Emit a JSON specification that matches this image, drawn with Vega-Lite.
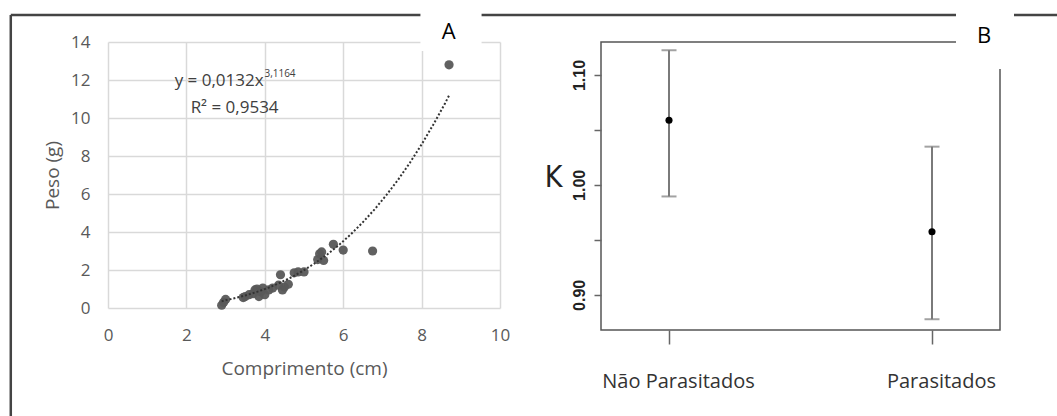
{
  "$schema": "https://vega.github.io/schema/vega-lite/v6.json",
  "background": "white",
  "padding": {"left": 9, "top": 5, "right": 0, "bottom": 0},
  "autosize": {"type": "pad"},
  "bounds": "flush",
  "spacing": 101,
  "config": {"view": {"stroke": null}, "font": "Open Sans"},
  "datasets": {
    "scatter": [
      {"x": 2.9, "y": 0.15}, {"x": 2.95, "y": 0.3}, {"x": 3.0, "y": 0.45}, {"x": 3.45, "y": 0.55},
      {"x": 3.5, "y": 0.6}, {"x": 3.6, "y": 0.7}, {"x": 3.7, "y": 0.75}, {"x": 3.75, "y": 0.95},
      {"x": 3.8, "y": 1.0}, {"x": 3.85, "y": 0.6}, {"x": 3.9, "y": 0.85}, {"x": 3.95, "y": 1.05},
      {"x": 4.0, "y": 0.7}, {"x": 4.1, "y": 0.95}, {"x": 4.2, "y": 1.05}, {"x": 4.35, "y": 1.2},
      {"x": 4.4, "y": 1.75}, {"x": 4.45, "y": 0.95}, {"x": 4.5, "y": 1.1}, {"x": 4.6, "y": 1.25},
      {"x": 4.75, "y": 1.85}, {"x": 4.85, "y": 1.9}, {"x": 5.0, "y": 1.9}, {"x": 5.35, "y": 2.55},
      {"x": 5.4, "y": 2.85}, {"x": 5.45, "y": 2.95}, {"x": 5.5, "y": 2.5}, {"x": 5.75, "y": 3.35},
      {"x": 6.0, "y": 3.05}, {"x": 6.75, "y": 3.0}, {"x": 8.7, "y": 12.8}
    ],
    "trend": [
      {"x": 2.9, "y": 0.36}, {"x": 3.2, "y": 0.5}, {"x": 3.5, "y": 0.66}, {"x": 3.8, "y": 0.85},
      {"x": 4.1, "y": 1.07}, {"x": 4.4, "y": 1.34}, {"x": 4.7, "y": 1.64}, {"x": 5.0, "y": 1.99},
      {"x": 5.3, "y": 2.39}, {"x": 5.6, "y": 2.83}, {"x": 5.9, "y": 3.33}, {"x": 6.2, "y": 3.89},
      {"x": 6.5, "y": 4.51}, {"x": 6.8, "y": 5.19}, {"x": 7.1, "y": 5.94}, {"x": 7.4, "y": 6.75},
      {"x": 7.7, "y": 7.64}, {"x": 8.0, "y": 8.61}, {"x": 8.3, "y": 9.66}, {"x": 8.6, "y": 10.78},
      {"x": 8.7, "y": 11.18}
    ],
    "frameA": [
      {"x": -2.48, "x2": -2.48, "y": 15.42, "y2": -6},
      {"x": -2.48, "x2": 25, "y": 15.42, "y2": 15.42}
    ],
    "boxA": [{"x": 7.97, "x2": 9.53, "y": 15.89, "y2": 13.53}],
    "labelA": [{"x": 8.69, "y": 14.53, "label": "A"}],
    "eqMain": [{"x": 3.97, "y": 11.95, "label": "y = 0,0132x"}],
    "eqSup": [{"x": 3.99, "y": 12.3, "label": "3,1164"}],
    "eqR2": [{"x": 3.23, "y": 10.53, "label": "R² = 0,9534"}],
    "kgroups": [
      {"grupo": "Não Parasitados", "K": 1.0588, "lower": 0.9895, "upper": 1.1225},
      {"grupo": "Parasitados", "K": 0.9573, "lower": 0.8778, "upper": 1.0348}
    ],
    "boxB": [{"px": 355, "px2": 413, "K": 1.1628, "K2": 1.1054}],
    "labelB": [{"px": 383, "K": 1.1355, "label": "B"}]
  },
  "hconcat": [
    {
      "width": 392,
      "height": 266,
      "layer": [
        {
          "data": {"name": "scatter"},
          "mark": {"type": "circle", "size": 85, "color": "#595959", "opacity": 0.95},
          "encoding": {
            "x": {
              "field": "x", "type": "quantitative",
              "scale": {"domain": [0, 10], "nice": false, "zero": false},
              "axis": {
                "title": "Comprimento (cm)", "values": [0, 2, 4, 6, 8, 10], "tickCount": 20, "format": "d", "grid": true,
                "gridColor": "#d9d9d9", "gridWidth": 1.5, "domain": false, "ticks": false,
                "labelOverlap": false, "labelBound": false, "labelFlush": false,
                "labelPadding": 19, "labelFontSize": 17, "labelColor": "#595959",
                "titleFontSize": 19, "titleColor": "#595959", "titleFontWeight": "normal", "titlePadding": 16
              }
            },
            "y": {
              "field": "y", "type": "quantitative",
              "scale": {"domain": [0, 14], "nice": false, "zero": false},
              "axis": {
                "title": "Peso (g)", "values": [0, 2, 4, 6, 8, 10, 12, 14], "tickCount": 20, "format": "d", "grid": true,
                "gridColor": "#d9d9d9", "gridWidth": 1.5, "domain": false, "ticks": false,
                "labelOverlap": false, "labelBound": false, "labelFlush": false,
                "labelPadding": 18, "labelFontSize": 17, "labelColor": "#595959",
                "titleFontSize": 19, "titleColor": "#595959", "titleFontWeight": "normal", "titlePadding": 8
              }
            }
          }
        },
        {
          "data": {"name": "frameA"},
          "mark": {"type": "rule", "color": "#444", "strokeWidth": 2.5, "clip": false},
          "encoding": {
            "x": {"field": "x", "type": "quantitative", "scale": {"domain": [0, 10], "nice": false, "zero": false}},
            "x2": {"field": "x2"},
            "y": {"field": "y", "type": "quantitative", "scale": {"domain": [0, 14], "nice": false, "zero": false}},
            "y2": {"field": "y2"}
          }
        },
        {
          "data": {"name": "trend"},
          "mark": {"type": "line", "color": "#333", "strokeWidth": 2, "strokeDash": [2, 2]},
          "encoding": {
            "x": {"field": "x", "type": "quantitative", "scale": {"domain": [0, 10], "nice": false, "zero": false}},
            "y": {"field": "y", "type": "quantitative", "scale": {"domain": [0, 14], "nice": false, "zero": false}}
          }
        },
        {
          "data": {"name": "eqMain"},
          "mark": {"type": "text", "align": "right", "baseline": "middle", "fontSize": 17, "fontWeight": 500, "color": "#404040"},
          "encoding": {
            "x": {"field": "x", "type": "quantitative", "scale": {"domain": [0, 10], "nice": false, "zero": false}},
            "y": {"field": "y", "type": "quantitative", "scale": {"domain": [0, 14], "nice": false, "zero": false}},
            "text": {"field": "label"}
          }
        },
        {
          "data": {"name": "eqSup"},
          "mark": {"type": "text", "align": "left", "baseline": "middle", "fontSize": 10, "color": "#404040"},
          "encoding": {
            "x": {"field": "x", "type": "quantitative", "scale": {"domain": [0, 10], "nice": false, "zero": false}},
            "y": {"field": "y", "type": "quantitative", "scale": {"domain": [0, 14], "nice": false, "zero": false}},
            "text": {"field": "label"}
          }
        },
        {
          "data": {"name": "eqR2"},
          "mark": {"type": "text", "align": "center", "baseline": "middle", "fontSize": 17, "fontWeight": 500, "color": "#404040"},
          "encoding": {
            "x": {"field": "x", "type": "quantitative", "scale": {"domain": [0, 10], "nice": false, "zero": false}},
            "y": {"field": "y", "type": "quantitative", "scale": {"domain": [0, 14], "nice": false, "zero": false}},
            "text": {"field": "label"}
          }
        },
        {
          "data": {"name": "boxA"},
          "mark": {"type": "rect", "color": "white", "clip": false},
          "encoding": {
            "x": {"field": "x", "type": "quantitative", "scale": {"domain": [0, 10], "nice": false, "zero": false}},
            "x2": {"field": "x2"},
            "y": {"field": "y", "type": "quantitative", "scale": {"domain": [0, 14], "nice": false, "zero": false}},
            "y2": {"field": "y2"}
          }
        },
        {
          "data": {"name": "labelA"},
          "mark": {"type": "text", "align": "center", "baseline": "middle", "fontSize": 22, "color": "#000"},
          "encoding": {
            "x": {"field": "x", "type": "quantitative", "scale": {"domain": [0, 10], "nice": false, "zero": false}},
            "y": {"field": "y", "type": "quantitative", "scale": {"domain": [0, 14], "nice": false, "zero": false}},
            "text": {"field": "label"}
          }
        }
      ]
    },
    {
      "width": 399,
      "height": 288,
      "view": {"stroke": "#555", "strokeWidth": 1.5},
      "resolve": {"scale": {"x": "independent"}, "axis": {"x": "independent"}},
      "layer": [
        {
          "data": {"name": "kgroups"},
          "encoding": {
            "x": {
              "field": "grupo", "type": "nominal",
              "scale": {"type": "point", "padding": 0.2586},
              "axis": {
                "title": null, "labelAngle": 0, "domain": false, "tickSize": 14, "tickColor": "#666",
                "tickWidth": 1.5, "labelPadding": 27, "labelFontSize": 20, "labelColor": "#333", "labelOffset": 9
              }
            }
          },
          "layer": [
            {
              "mark": {"type": "rule", "color": "#7a7a7a", "strokeWidth": 2},
              "encoding": {
                "y": {
                  "field": "lower", "type": "quantitative",
                  "scale": {"domain": [0.868, 1.13], "nice": false, "zero": false},
                  "axis": {
                    "values": [0.9, 0.95, 1.0, 1.05, 1.1], "tickCount": 20,
                    "labelExpr": "abs(datum.value*10 - round(datum.value*10)) < 0.001 ? format(datum.value, '.2f') : ''",
                    "grid": false, "domain": false, "tickSize": 7, "tickColor": "#666", "tickWidth": 1.5,
                    "labelAngle": 270, "labelFontWeight": "bold", "labelFontSize": 16, "labelColor": "#222",
                    "labelFont": "Liberation Sans", "labelPadding": 7, "labelOverlap": false,
                    "title": "K", "titleAngle": 0, "titleFontSize": 30, "titleFontWeight": "normal",
                    "titleFont": "Liberation Sans Narrow, DejaVu Sans Condensed, sans-serif", "titleColor": "#222",
                    "titlePadding": 18, "titleBaseline": "middle", "titleY": 135
                  }
                },
                "y2": {"field": "upper"}
              }
            },
            {
              "mark": {"type": "tick", "color": "#7a7a7a", "thickness": 2, "size": 15, "orient": "horizontal"},
              "encoding": {
                "y": {"field": "lower", "type": "quantitative", "scale": {"domain": [0.868, 1.13], "nice": false, "zero": false}}
              }
            },
            {
              "mark": {"type": "tick", "color": "#7a7a7a", "thickness": 2, "size": 15, "orient": "horizontal"},
              "encoding": {
                "y": {"field": "upper", "type": "quantitative", "scale": {"domain": [0.868, 1.13], "nice": false, "zero": false}}
              }
            },
            {
              "mark": {"type": "point", "filled": true, "color": "#000", "size": 50, "opacity": 1},
              "encoding": {
                "y": {"field": "K", "type": "quantitative", "scale": {"domain": [0.868, 1.13], "nice": false, "zero": false}}
              }
            }
          ]
        },
        {
          "layer": [
            {
              "data": {"name": "boxB"},
              "mark": {"type": "rect", "color": "white", "clip": false},
              "encoding": {
                "x": {"field": "px", "type": "quantitative", "scale": {"domain": [0, 399], "nice": false, "zero": false}, "axis": null},
                "x2": {"field": "px2"},
                "y": {"field": "K", "type": "quantitative", "scale": {"domain": [0.868, 1.13], "nice": false, "zero": false}},
                "y2": {"field": "K2"}
              }
            },
            {
              "data": {"name": "labelB"},
              "mark": {"type": "text", "align": "center", "baseline": "middle", "fontSize": 22, "color": "#000"},
              "encoding": {
                "x": {"field": "px", "type": "quantitative", "scale": {"domain": [0, 399], "nice": false, "zero": false}, "axis": null},
                "y": {"field": "K", "type": "quantitative", "scale": {"domain": [0.868, 1.13], "nice": false, "zero": false}},
                "text": {"field": "label"}
              }
            }
          ]
        }
      ]
    }
  ]
}
